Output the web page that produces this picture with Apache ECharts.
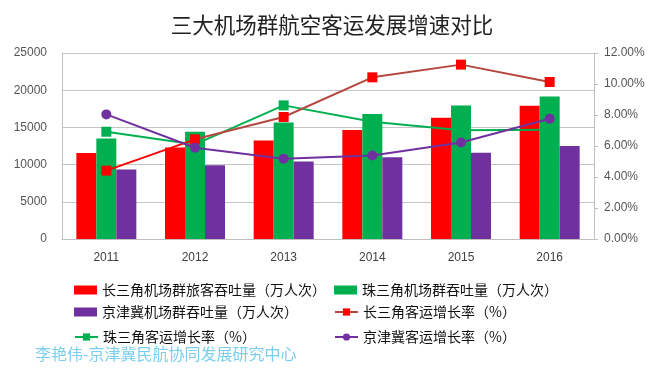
<!DOCTYPE html>
<html>
<head>
<meta charset="utf-8">
<script src="https://cdn.jsdelivr.net/npm/echarts@6/dist/echarts.min.js"></script>
<style>
html,body{margin:0;padding:0;background:#fff;}
#c{width:664px;height:378px;}
</style>
</head>
<body>
<div id="c"></div>
<script>
var categories = ['2011', '2012', '2013', '2014', '2015', '2016'];
var yrdVolume = [11550, 12300, 13250, 14650, 16300, 17900];
var prdVolume = [13500, 14400, 15650, 16800, 17950, 19150];
var bthVolume = [9350, 9900, 10400, 11000, 11600, 12500];
var yrdGrowth = [4.41, 6.43, 7.87, 10.43, 11.25, 10.13];
var prdGrowth = [6.92, 6.10, 8.62, 7.57, 7.02, 7.05];
var bthGrowth = [8.04, 5.89, 5.18, 5.39, 6.23, 7.76];
var leftTicks = [0, 5000, 10000, 15000, 20000, 25000];
var rightTicks = [0, 2, 4, 6, 8, 10, 12];
var names = ['长三角机场群旅客吞吐量（万人次）', '珠三角机场群吞吐量（万人次）', '京津冀机场群吞吐量（万人次）',
             '长三角客运增长率（%）', '珠三角客运增长率（%）', '京津冀客运增长率（%）'];

var RED = '#FF0000', GREEN = '#00B050', PURPLE = '#7030A0', BROWN = '#B5463F';
var CJK = '"Noto Sans CJK SC", sans-serif';
var LAT = '"Liberation Sans", Arial, sans-serif';

var chart = echarts.init(document.getElementById('c'), null, {renderer: 'canvas'});

function lg(name, left, top, extra) {
  var d = {name: name};
  if (extra) for (var k in extra) d[k] = extra[k];
  return {
    data: [d], left: left, top: top, itemWidth: 23, itemHeight: 9, itemGap: 4, padding: 0,
    textStyle: {fontFamily: CJK, fontSize: 14, color: '#111'}, selectedMode: false
  };
}

var option = {
  animation: false,
  backgroundColor: '#fff',
  title: {
    text: '三大机场群航空客运发展增速对比', left: 'center', top: 9,
    textStyle: {fontFamily: CJK, fontSize: 21.5, fontWeight: 'normal', color: '#222'}
  },
  legend: [
    lg(names[0], 74, 283, {icon: 'rect'}),
    lg(names[1], 334, 283, {icon: 'rect'}),
    lg(names[2], 74, 305, {icon: 'rect'}),
    lg(names[3], 334, 305, {lineStyle: {color: BROWN, width: 2}}),
    lg(names[4], 74, 330),
    lg(names[5], 334, 330)
  ],
  grid: {left: 62, right: 70, top: 53, bottom: 139, containLabel: false},
  xAxis: {
    type: 'category', data: categories,
    axisLine: {lineStyle: {color: '#BFBFBF', width: 1}},
    axisTick: {show: false},
    axisLabel: {fontFamily: LAT, fontSize: 12, color: '#404040', margin: 13}
  },
  yAxis: [{
    type: 'value', min: leftTicks[0], max: leftTicks[leftTicks.length - 1], interval: leftTicks[1] - leftTicks[0],
    axisLine: {show: true, lineStyle: {color: '#BFBFBF'}},
    axisTick: {show: false},
    splitLine: {lineStyle: {color: '#C4C4C4', width: 1}},
    axisLabel: {fontFamily: LAT, fontSize: 12, color: '#555', margin: 15,
      formatter: function (v) { return String(v); }}
  }, {
    type: 'value', min: rightTicks[0], max: rightTicks[rightTicks.length - 1], interval: rightTicks[1] - rightTicks[0],
    position: 'right',
    axisLine: {show: true, lineStyle: {color: '#BFBFBF'}},
    axisTick: {show: true, length: 4, lineStyle: {color: '#BFBFBF'}},
    splitLine: {show: false},
    axisLabel: {fontFamily: LAT, fontSize: 12, color: '#555', margin: 10,
      formatter: function (v) { return v.toFixed(2) + '%'; }}
  }],
  series: [
    {name: names[0], type: 'bar', data: yrdVolume, barWidth: 20, barGap: '0%', itemStyle: {color: RED}},
    {name: names[1], type: 'bar', data: prdVolume, barWidth: 20, barGap: '0%', itemStyle: {color: GREEN}},
    {name: names[2], type: 'bar', data: bthVolume, barWidth: 20, barGap: '0%', itemStyle: {color: PURPLE}},
    {name: names[3], type: 'line', yAxisIndex: 1, data: yrdGrowth, symbol: 'rect', symbolSize: 10,
      itemStyle: {color: RED},
      lineStyle: {width: 2, color: new echarts.graphic.LinearGradient(0, 0, 1, 0, [
        {offset: 0, color: RED}, {offset: 0.2, color: RED}, {offset: 0.2, color: BROWN}, {offset: 1, color: BROWN}
      ])}, z: 5},
    {name: names[4], type: 'line', yAxisIndex: 1, data: prdGrowth, symbol: 'rect', symbolSize: 10,
      itemStyle: {color: GREEN}, lineStyle: {width: 2, color: GREEN}, z: 4},
    {name: names[5], type: 'line', yAxisIndex: 1, data: bthGrowth, symbol: 'circle', symbolSize: 10,
      itemStyle: {color: PURPLE}, lineStyle: {width: 2, color: PURPLE}, z: 6}
  ],
  graphic: [{
    type: 'text', left: 35, top: 346,
    style: {text: '李艳伟-京津冀民航协同发展研究中心', fontFamily: CJK, fontSize: 16, fill: '#7ACFEF', letterSpacing: 1.3}
  }]
};
chart.setOption(option);
</script>
</body>
</html>
